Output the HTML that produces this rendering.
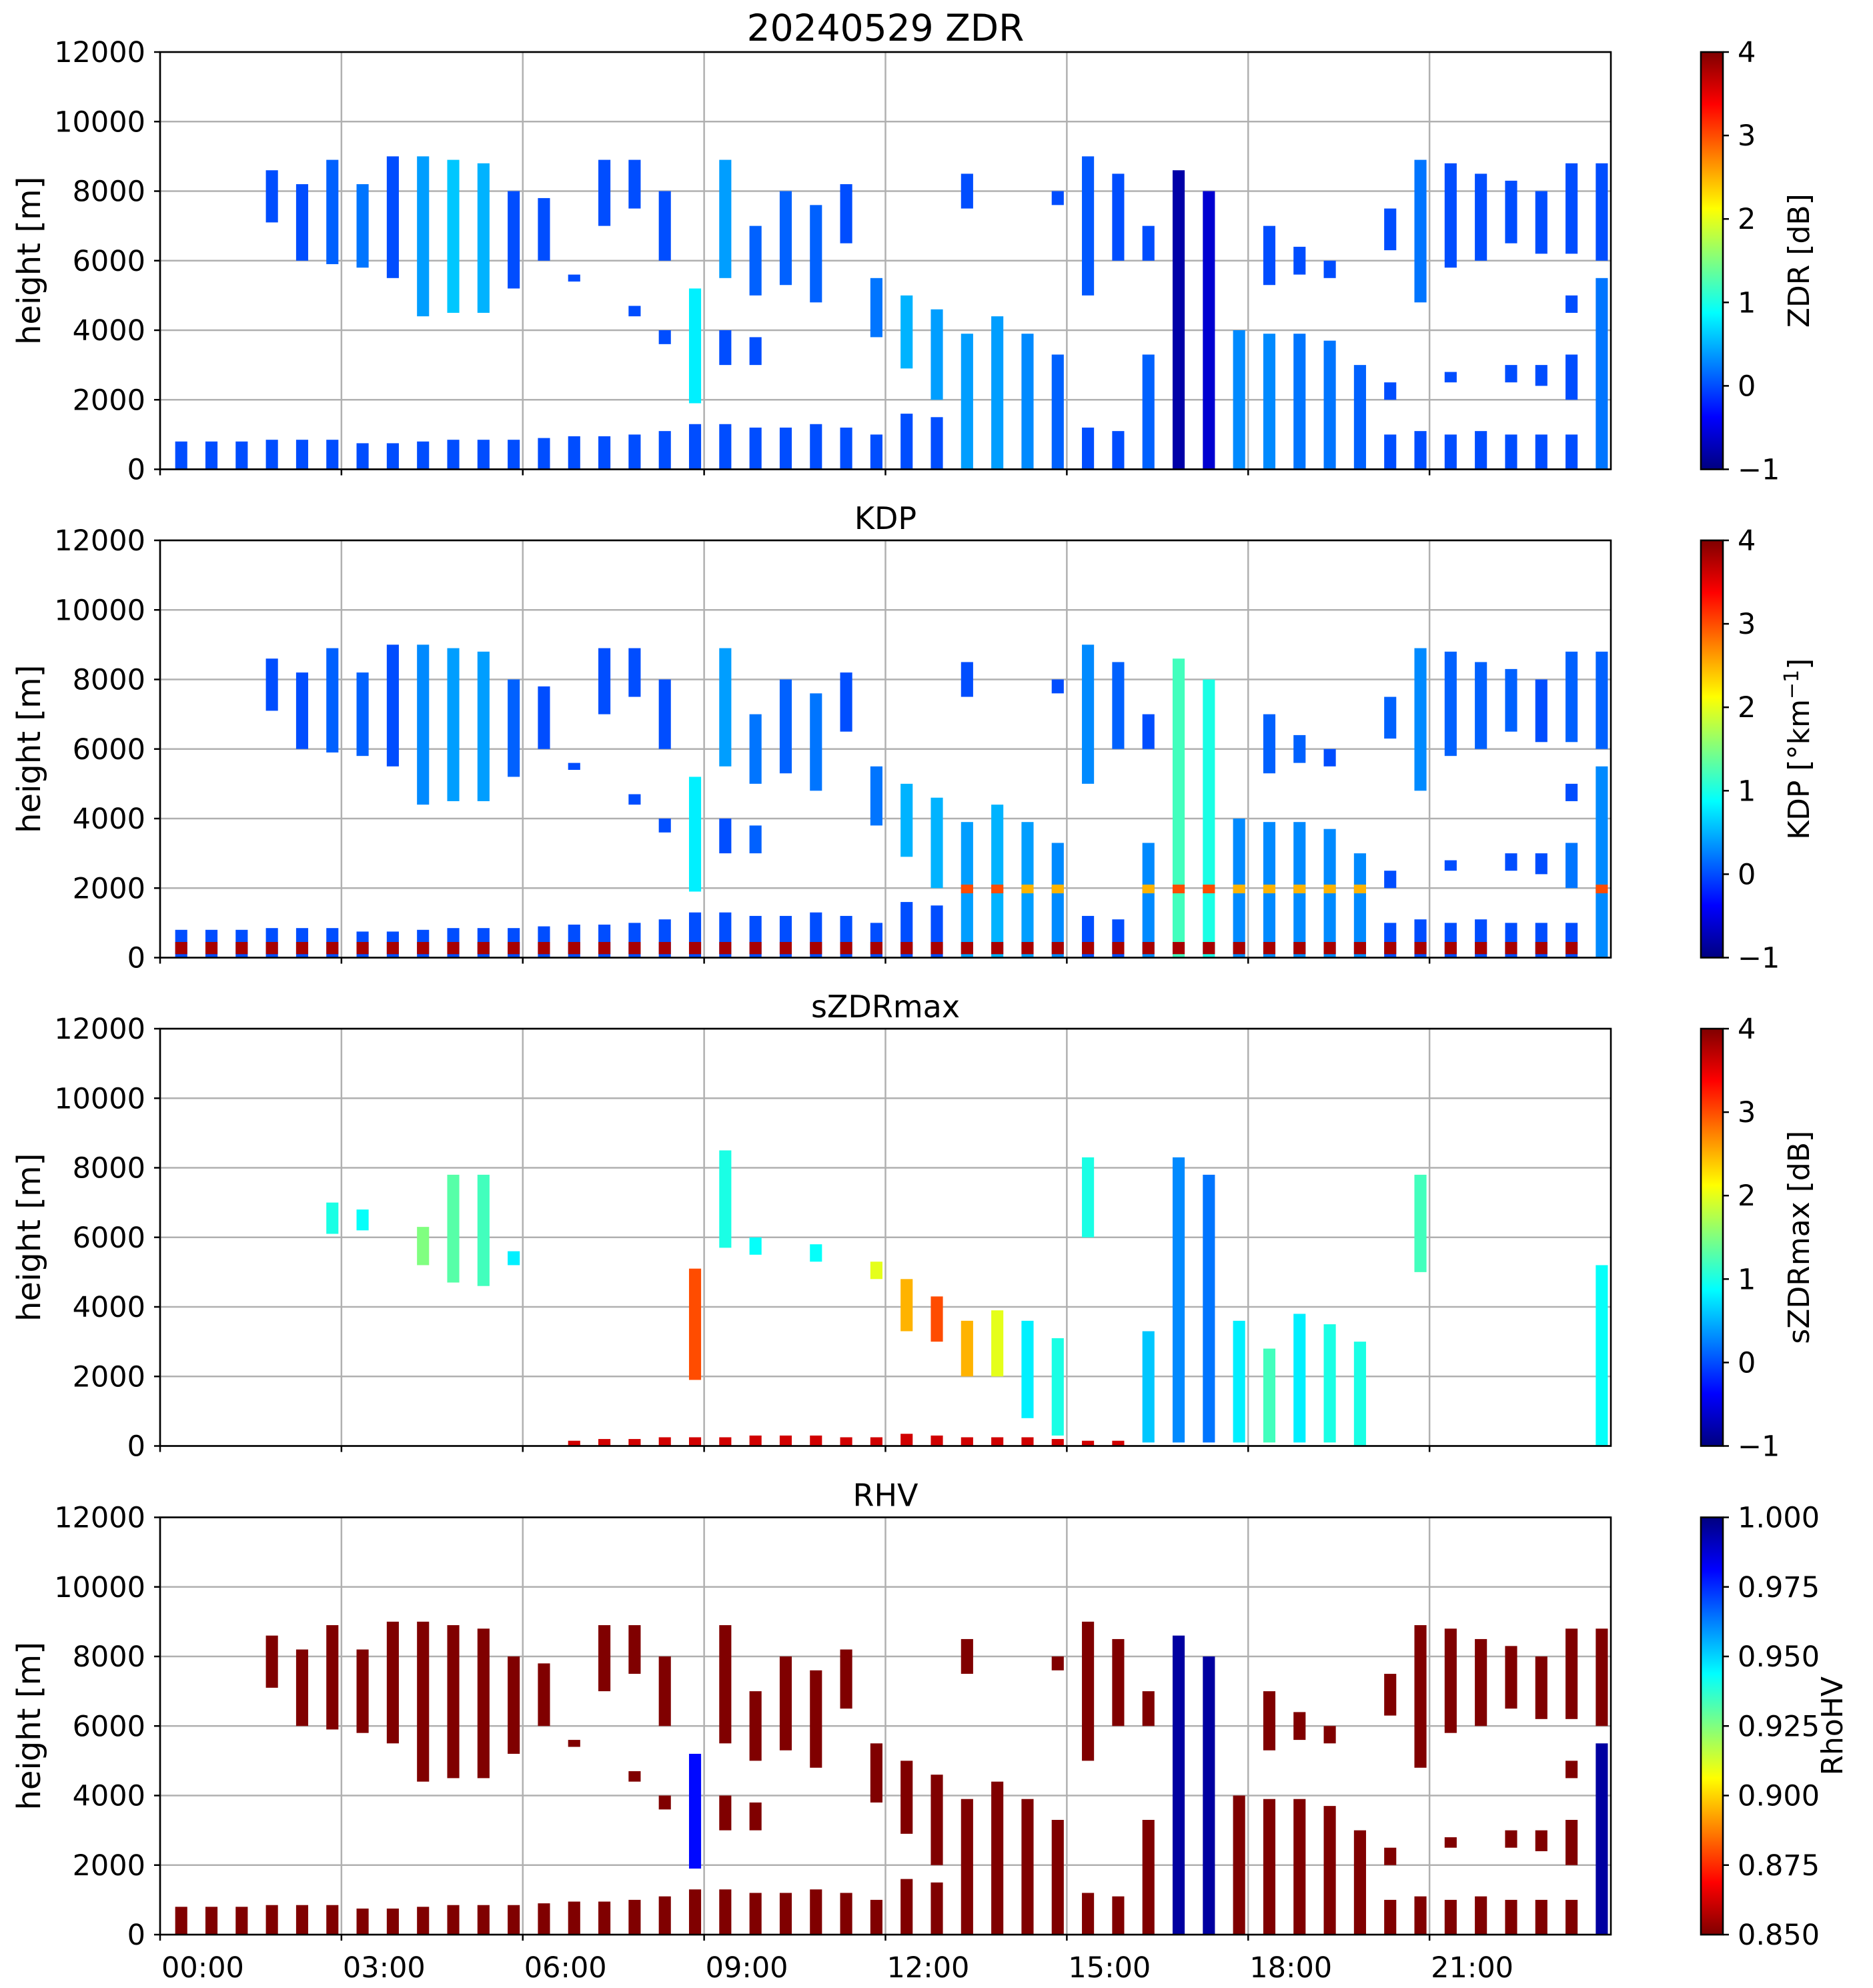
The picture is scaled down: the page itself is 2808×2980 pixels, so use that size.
<!DOCTYPE html>
<html><head><meta charset="utf-8"><style>
html,body{margin:0;padding:0;background:#fff;}
svg{display:block;font-family:"DejaVu Sans","Liberation Sans",sans-serif;}
</style></head><body>
<svg id="fig" xmlns="http://www.w3.org/2000/svg" width="2808" height="2980" viewBox="0 0 2808 2980"></svg>
<script>
// ---- data ----
const colTimes = [];for(let k=0;k<48;k++)colTimes.push(0.25+0.5*k); // scan start hours
const colWidth = 0.2;
const lowTop = [800,800,800,850,850,850,750,750,800,850,850,850,900,950,950,1000,1100,1300,1300,1200,1200,1300,1200,1000,1600,1500,3900,4400,3900,3300,1200,1100,3300,8600,8000,4000,3900,3900,3700,3000,1000,1100,1000,1100,1000,1000,1000,5500];
const lowZdr = [0,0,0,0,0,0,0,0,0,0,0,0,0,0,0,0,0,0,0,0,0,0,0,0,0,0,0.4,0.4,0.3,0.1,0,0,0.1,-0.8,-0.6,0.3,0.3,0.2,0.2,0.1,0,0,0,0,0,0,0,0.2];
const lowKdp = [0,0,0,0,0,0,0,0,0,0,0,0,0,0,0,0,0,0,0,0,0,0,0,0,0,0,0.4,0.5,0.4,0.3,0,0,0.3,1.2,1.0,0.3,0.3,0.3,0.3,0.3,0,0,0,0,0,0,0,0.3];
const lowRhv = [0.85,0.85,0.85,0.85,0.85,0.85,0.85,0.85,0.85,0.85,0.85,0.85,0.85,0.85,0.85,0.85,0.85,0.85,0.85,0.85,0.85,0.85,0.85,0.85,0.85,0.85,0.85,0.85,0.85,0.85,0.85,0.85,0.85,0.995,0.995,0.85,0.85,0.85,0.85,0.85,0.85,0.85,0.85,0.85,0.85,0.85,0.85,0.995];
// upper segments
const upCol = [3,4,5,6,7,8,9,10,11,12,13,14,15,15,16,16,17,18,18,19,19,20,21,22,23,24,25,26,29,30,31,32,36,37,38,40,40,41,42,42,43,44,44,45,45,46,46,46,47];
const upBot = [7100,6000,5900,5800,5500,4400,4500,4500,5200,6000,5400,7000,7500,4400,6000,3600,1900,5500,3000,5000,3000,5300,4800,6500,3800,2900,2000,7500,7600,5000,6000,6000,5300,5600,5500,2000,6300,4800,2500,5800,6000,2500,6500,2400,6200,2000,4500,6200,6000];
const upTop = [8600,8200,8900,8200,9000,9000,8900,8800,8000,7800,5600,8900,8900,4700,8000,4000,5200,8900,4000,7000,3800,8000,7600,8200,5500,5000,4600,8500,8000,9000,8500,7000,7000,6400,6000,2500,7500,8900,2800,8800,8500,3000,8300,3000,8000,3300,5000,8800,8800];
const upZdr = [0,0,0.1,0.2,0,0.4,0.6,0.5,0,0,0,0,0,0,0,0,0.8,0.4,0,0.1,0,0.1,0.1,0,0.2,0.5,0.4,0,0,0.05,0,0,0,0,0,0,0,0.2,0,0,0,0,0,0,0,0,0,0,0];
const upKdp = [0,0,0.1,0.1,0,0.3,0.4,0.4,0.1,0,0,0,0,0,0,0,0.8,0.4,0,0.2,0.1,0.1,0.2,0,0.2,0.5,0.5,0,0,0.3,0.1,0,0.1,0.1,0,0,0.1,0.3,0,0.1,0.1,0,0.1,0,0,0.2,0,0.1,0.1];
const upRhv = [0.85,0.85,0.85,0.85,0.85,0.85,0.85,0.85,0.85,0.85,0.85,0.85,0.85,0.85,0.85,0.85,0.98,0.85,0.85,0.85,0.85,0.85,0.85,0.85,0.85,0.85,0.85,0.85,0.85,0.85,0.85,0.85,0.85,0.85,0.85,0.85,0.85,0.85,0.85,0.85,0.85,0.85,0.85,0.85,0.85,0.85,0.85,0.85,0.85];
// sZDRmax segments
const sCol = [5,6,8,9,10,11,17,18,19,21,23,24,25,26,27,28,29,30,32,33,34,35,36,37,38,39,41,47,13,14,15,16,17,18,19,20,21,22,23,24,25,26,27,28,29,30,31];
const sBot = [6100,6200,5200,4700,4600,5200,1900,5700,5500,5300,4800,3300,3000,2000,2000,800,300,6000,100,100,100,100,100,100,100,0,5000,0,0,0,0,0,0,0,0,0,0,0,0,0,0,0,0,0,0,0,0];
const sTop = [7000,6800,6300,7800,7800,5600,5100,8500,6000,5800,5300,4800,4300,3600,3900,3600,3100,8300,3300,8300,7800,3600,2800,3800,3500,3000,7800,5200,150,200,200,250,250,250,300,300,300,250,250,350,300,250,250,250,200,150,150];
const sVal = [1.0,0.9,1.5,1.3,1.2,0.8,3.0,1.0,0.9,0.9,2.0,2.5,3.0,2.5,2.0,0.8,1.0,1.0,0.6,0.3,0.2,0.8,1.2,0.8,1.0,1.0,1.2,0.9,3.6,3.6,3.6,3.6,3.6,3.6,3.6,3.6,3.6,3.6,3.6,3.6,3.6,3.6,3.6,3.6,3.6,3.6,3.6];
// melting-layer band (KDP)
const mlCol = [26,27,28,29,32,33,34,35,36,37,38,39,47];
const mlVal = [3.0,3.0,2.5,2.5,2.5,3.0,3.0,2.5,2.5,2.5,2.5,2.5,3.0];
const yTicks = [0,2000,4000,6000,8000,10000,12000];
const xTickHours = [0,3,6,9,12,15,18,21];
const xTickLabels = ["00:00","03:00","06:00","09:00","12:00","15:00","18:00","21:00"];

// ---- layout ----
const NS="http://www.w3.org/2000/svg";
const svg=document.getElementById('fig');
const L=240,R=2415,H=625.5;
const tops=[78,810,1542,2274.5];
const CBL=2550,CBR=2583;
function el(t,a,p){const e=document.createElementNS(NS,t);for(const k in a)e.setAttribute(k,a[k]);(p||svg).appendChild(e);return e;}
function jet(x){x=Math.max(0,Math.min(1,x));
 const c=v=>Math.round(255*Math.max(0,Math.min(1,v)));
 const r=1.5-Math.abs(4*x-3),g=1.5-Math.abs(4*x-2),b=1.5-Math.abs(4*x-1);
 return `rgb(${c(r)},${c(g)},${c(b)})`;}
const xs=t=>L+t/24*(R-L);
function ysFor(top){return h=>top+H*(1-h/12000);}

const defs=el('defs',{});
function grad(id,rev){const g=el('linearGradient',{id:id,x1:0,y1:1,x2:0,y2:0},defs);
 for(let i=0;i<=40;i++){const f=i/40;el('stop',{offset:f,'stop-color':jet(rev?1-f:f)},g);} }
grad('gjet',false);grad('gjetr',true);

const panels=[
 {title:"20240529 ZDR",tsize:55,cb:"ZDR [dB]",name:"zdr",norm:v=>(v+1)/5,ticks:[-1,0,1,2,3,4],fmt:v=>v<0?"\u2212"+(-v):String(v),g:'gjet'},
 {title:"KDP",tsize:46,cb:"KDP",name:"kdp",norm:v=>(v+1)/5,ticks:[-1,0,1,2,3,4],fmt:v=>v<0?"\u2212"+(-v):String(v),g:'gjet'},
 {title:"sZDRmax",tsize:46,cb:"sZDRmax [dB]",name:"szdrmax",norm:v=>(v+1)/5,ticks:[-1,0,1,2,3,4],fmt:v=>v<0?"\u2212"+(-v):String(v),g:'gjet'},
 {title:"RHV",tsize:46,cb:"RhoHV",name:"rhv",norm:v=>1-(v-0.85)/0.15,ticks:[0.85,0.875,0.9,0.925,0.95,0.975,1.0],fmt:v=>v.toFixed(3),g:'gjetr',tnorm:v=>(v-0.85)/0.15}
];

panels.forEach((p,pi)=>{
 const top=tops[pi],bot=top+H,ys=ysFor(top);
 const grp=el('g',{});
 
 
 yTicks.forEach(v=>{const l=el('line',{x1:L,x2:R,y1:ys(v),y2:ys(v),stroke:'#b0b0b0','stroke-width':2.5},grp);
  });
 xTickHours.forEach(h=>{const l=el('line',{x1:xs(h),x2:xs(h),y1:top,y2:bot,stroke:'#b0b0b0','stroke-width':2.5},grp);
  });
 function seg(k,b,t,v,nm){const r=el('rect',{x:xs(colTimes[k]),y:ys(t),width:xs(colWidth)-L,height:ys(b)-ys(t),fill:jet(p.norm(v))},grp);
  }
 if(pi===2){
  for(let i=0;i<sCol.length;i++)seg(sCol[i],sBot[i],sTop[i],sVal[i],'szdrmax-cell');
 }else{
  const lowV=[lowZdr,lowKdp,null,lowRhv][pi],upV=[upZdr,upKdp,null,upRhv][pi];
  for(let k=0;k<48;k++)seg(k,0,lowTop[k],lowV[k],p.name+'-low-cell');
  for(let i=0;i<upCol.length;i++)seg(upCol[i],upBot[i],upTop[i],upV[i],p.name+'-upper-cell');
  if(pi===1)for(let i=0;i<mlCol.length;i++)seg(mlCol[i],1850,2100,mlVal[i],'kdp-melting-band');
  if(pi===1)for(let k=0;k<47;k++)seg(k,100,450,3.8,'kdp-surface-band');
 }
 const fr=el('rect',{x:L,y:top,width:R-L,height:H,fill:'none',stroke:'#000','stroke-width':2.6},grp);
 
 yTicks.forEach(v=>{el('line',{x1:L-9,x2:L,y1:ys(v),y2:ys(v),stroke:'#000','stroke-width':2.5},grp);
  const t=el('text',{x:218,y:ys(v)+15,'text-anchor':'end','font-size':43},grp);t.textContent=v;
  });
 xTickHours.forEach((h,i)=>{el('line',{x1:xs(h),x2:xs(h),y1:bot,y2:bot+9,stroke:'#000','stroke-width':2.5},grp);
  if(pi===3){const t=el('text',{x:xs(h)+2,y:bot+64,'font-size':43},grp);t.textContent=xTickLabels[i];
   }});
 const yl=el('text',{x:0,y:0,transform:`translate(60 ${top+H/2}) rotate(-90)`,'text-anchor':'middle','font-size':48},grp);
 yl.textContent='height [m]';
 const tt=el('text',{x:(L+R)/2,y:top-17,'text-anchor':'middle','font-size':p.tsize},grp);tt.textContent=p.title;
 
 const cb=el('rect',{x:CBL,y:top,width:CBR-CBL,height:H,fill:`url(#${p.g})`,stroke:'#000','stroke-width':2.6},grp);
 
 const tn=p.tnorm||(v=>(v+1)/5);
 p.ticks.forEach(v=>{const y=top+H*(1-tn(v));
  el('line',{x1:CBR,x2:CBR+9,y1:y,y2:y,stroke:'#000','stroke-width':2.5},grp);
  const t=el('text',{x:CBR+22,y:y+15,'font-size':43},grp);t.textContent=p.fmt(v);
  });
 const cx=pi===3?2762:2712;
 const cl=el('text',{x:0,y:0,transform:`translate(${cx} ${top+H/2}) rotate(-90)`,'text-anchor':'middle','font-size':44},grp);
 if(pi===1){cl.textContent='KDP [°km';const s=el('tspan',{dy:-16,'font-size':30},cl);s.textContent='\u22121';const s2=el('tspan',{dy:16},cl);s2.textContent=']';}
 else cl.textContent=p.cb;
 
});
</script>
</body></html>
